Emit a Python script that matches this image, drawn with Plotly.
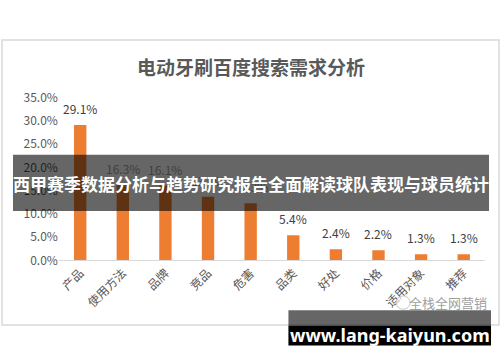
import plotly.graph_objects as go

categories = ["产品", "使用方法", "品牌", "竞品", "危害", "品类", "好处", "价格", "适用对象", "推荐"]
values = [29.1, 16.3, 16.1, 13.7, 12.3, 5.4, 2.4, 2.2, 1.3, 1.3]
y_ticks = [0, 5, 10, 15, 20, 25, 30, 35]
title_text = "电动牙刷百度搜索需求分析"
banner_text = "西甲赛季数据分析与趋势研究报告全面解读球队表现与球员统计"
footer_text = "www.lang-kaiyun.com"
watermark_text = "全栈全网营销"

W, H = 500, 362
FONT = "Noto Sans CJK SC"

def px(x):
    return x / W

def py(y):
    return 1 - y / H

fig = go.Figure()
fig.add_trace(go.Bar(
    x=categories, y=values,
    marker=dict(color="#ED7D31", line=dict(width=0)),
    width=0.29,
    hoverinfo="skip",
))

annotations = []
for c, v in zip(categories, values):
    annotations.append(dict(
        x=c, y=v, xref="x", yref="y", text=f"{v:.1f}%", showarrow=False,
        xanchor="center", yanchor="bottom", yshift=6,
        font=dict(family=FONT, size=12, color="#404040"),
    ))

def label(x, y, text, family, size, color):
    return dict(x=px(x), y=py(y), xref="paper", yref="paper", text=text,
                showarrow=False, xanchor="center", yanchor="middle",
                font=dict(family=family, size=size, color=color))

annotations += [
    label(250, 59, f"<b>{title_text}</b>", FONT, 19, "#595959"),
    label(250, 182, f"<b>{banner_text}</b>", FONT, 17, "white"),
    label(390, 341, f"<b>{footer_text}</b>", "Noto Sans", 18, "white"),
    label(448, 307, watermark_text, FONT, 13, "#a0a0a0"),
]

shapes = [
    dict(type="rect", xref="paper", yref="paper", x0=px(1), x1=px(499), y0=py(330.5), y1=py(31.5),
         line=dict(color="#d9d9d9", width=1.5), fillcolor="rgba(0,0,0,0)", layer="below"),
    dict(type="circle", xref="paper", yref="paper", x0=px(396), x1=px(410), y0=py(314), y1=py(300),
         line=dict(color="#c8c8c8", width=1), fillcolor="rgba(255,255,255,0.6)", layer="above"),
    dict(type="rect", xref="paper", yref="paper", x0=px(12), x1=px(489), y0=py(211), y1=py(152),
         line=dict(width=0), fillcolor="rgba(0,0,0,0.6)", layer="above"),
    dict(type="rect", xref="paper", yref="paper", x0=px(288), x1=px(491), y0=py(331), y1=py(315),
         line=dict(width=0), fillcolor="rgba(0,0,0,0.6)", layer="above"),
    dict(type="rect", xref="paper", yref="paper", x0=px(288), x1=px(491), y0=py(352), y1=py(331),
         line=dict(width=0), fillcolor="#000000", layer="above"),
]

fig.update_layout(
    width=W, height=H,
    margin=dict(l=0, r=0, t=0, b=0),
    paper_bgcolor="white", plot_bgcolor="white",
    showlegend=False,
    bargap=0.71,
    xaxis=dict(domain=[px(58), px(485)], showline=True, linecolor="#d9d9d9", linewidth=1,
               tickangle=-45, ticks="", showgrid=False,
               tickfont=dict(family=FONT, size=12, color="#595959")),
    yaxis=dict(domain=[py(262.7), py(92)], range=[0, 35], tickvals=y_ticks,
               ticktext=[f"{t:.1f}%" for t in y_ticks], showgrid=False, zeroline=False,
               showline=False, ticks="", ticklabelstandoff=0,
               tickfont=dict(family=FONT, size=12, color="#595959")),
    annotations=annotations,
    shapes=shapes,
)

fig.write_html("out.html")
